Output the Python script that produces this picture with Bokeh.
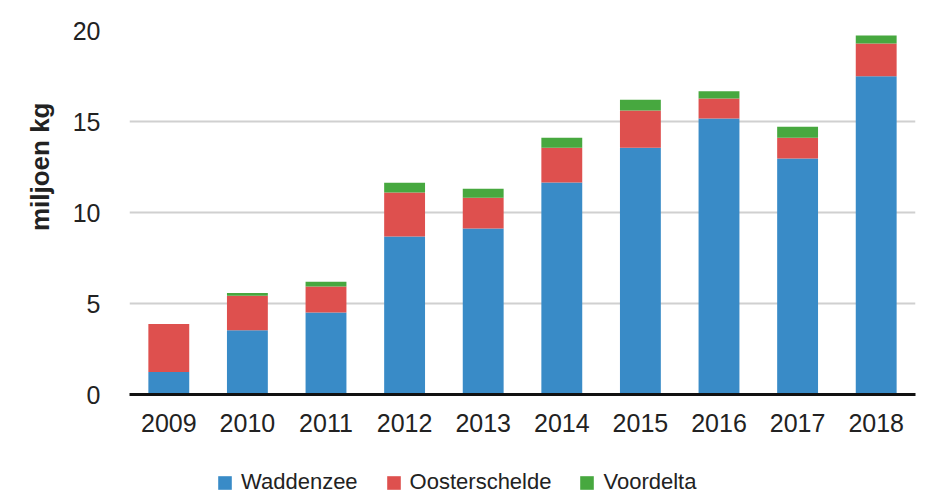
from bokeh.plotting import figure
from bokeh.models import Range1d, FactorRange, Legend, LegendItem, Title, FixedTicker
from bokeh.layouts import column
from bokeh.embed import file_html
from bokeh.resources import INLINE

years = ["2009", "2010", "2011", "2012", "2013", "2014", "2015", "2016", "2017", "2018"]
waddenzee = [1.24, 3.53, 4.50, 8.68, 9.12, 11.65, 13.56, 15.17, 12.97, 17.48]
oosterschelde = [2.64, 1.89, 1.43, 2.42, 1.69, 1.91, 2.05, 1.10, 1.14, 1.80]
voordelta = [0.0, 0.16, 0.26, 0.53, 0.49, 0.55, 0.59, 0.39, 0.60, 0.44]
series = ["Waddenzee", "Oosterschelde", "Voordelta"]
colors = ["#398BC7", "#DE504E", "#47A83F"]
y_ticks = [0, 5, 10, 15, 20]

FONT = "Liberation Sans"
TXT = "#222222"

data = {"years": years, "Waddenzee": waddenzee, "Oosterschelde": oosterschelde, "Voordelta": voordelta}

# ---- main chart ----
p = figure(width=932, height=450, x_range=FactorRange(*years), y_range=Range1d(0, 20),
           output_backend="svg", toolbar_location=None,
           min_border_left=129, min_border_right=17, min_border_top=30, min_border_bottom=56)
p.outline_line_color = None
p.vbar_stack(series, x="years", width=0.52, color=colors, line_color=None, source=data)

p.xgrid.grid_line_color = None
p.ygrid.grid_line_color = "#D0D0D0"
p.ygrid.grid_line_width = 2
p.yaxis.ticker = FixedTicker(ticks=y_ticks)

p.yaxis.axis_line_color = None
p.yaxis.major_tick_line_color = None
p.yaxis.minor_tick_line_color = None
p.yaxis.major_label_standoff = 23
p.yaxis.major_label_text_font = FONT
p.yaxis.major_label_text_font_size = "25px"
p.yaxis.major_label_text_color = TXT

p.xaxis.axis_line_color = "#111111"
p.xaxis.axis_line_width = 3
p.xaxis.major_tick_line_color = None
p.xaxis.minor_tick_line_color = None
p.xaxis.major_label_standoff = 13
p.xaxis.major_label_text_font = FONT
p.xaxis.major_label_text_font_size = "25px"
p.xaxis.major_label_text_color = TXT

ytitle = Title(text="miljoen kg", align="right", vertical_align="middle", offset=72, standoff=28,
               text_font=FONT, text_font_style="bold", text_font_size="26px", text_color=TXT)
p.add_layout(ytitle, "left")

# ---- legend strip below the chart (its zero-width bars only serve the legend) ----
lg = figure(width=932, height=45, x_range=FactorRange(*years), y_range=Range1d(-200, -100),
            x_axis_type=None, y_axis_type=None, output_backend="svg", toolbar_location=None,
            min_border=0)
lg.outline_line_color = None
lg_renderers = lg.vbar_stack(series, x="years", width=0, color=colors, line_color=None, source=data)
legend = Legend(items=[LegendItem(label=s, renderers=[r]) for s, r in zip(series, lg_renderers)],
                orientation="horizontal", location=(87, 0), padding=0, margin=0,
                spacing=27, label_standoff=8, glyph_width=17, glyph_height=17,
                label_text_font=FONT, label_text_font_size="22px", label_text_color=TXT,
                border_line_color=None, background_fill_alpha=0)
lg.add_layout(legend)

layout = column(p, lg, spacing=0)
open("out.html", "w").write(file_html(layout, INLINE))
